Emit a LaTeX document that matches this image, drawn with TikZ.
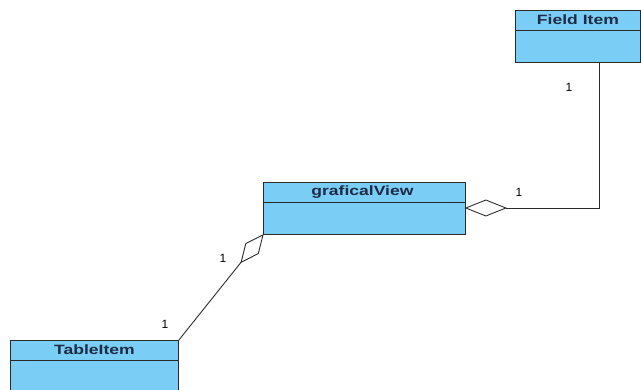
\documentclass[tikz,border=0pt]{standalone}
\usepackage{fontspec}
\setmainfont{Liberation Sans}
\usetikzlibrary{calc}
\definecolor{clsfill}{HTML}{7ACDF4}
\definecolor{clstext}{HTML}{1E2B45}
\definecolor{edge}{HTML}{2A2A2A}
\newcommand{\wideName}[1]{\scalebox{1.3}[1]{#1}}
\tikzset{
  cls/.style={draw=edge, line width=0.9pt, fill=clsfill, anchor=north west, inner sep=0pt},
  clsname/.style={font=\bfseries\fontsize{13.5}{15}\selectfont, text=clstext, inner sep=0pt},
  conn/.style={draw=edge, line width=0.9pt},
  mult/.style={font=\fontsize{12}{14}\selectfont, text=black, inner sep=0pt}
}
\begin{document}
\begin{tikzpicture}[x=1pt,y=-1pt]
\clip (0,0) rectangle (641,389);
\fill[white] (0,0) rectangle (641,389);
% classes
\node[cls, minimum width=125pt, minimum height=52pt] (fi) at (515,10) {};
\node[cls, minimum width=202pt, minimum height=52pt] (gv) at (263,182) {};
\node[cls, minimum width=168pt, minimum height=60pt] (ti) at (10,340) {};
% header dividers
\draw[conn] ($(fi.north west)+(0,20)$) -- ($(fi.north east)+(0,20)$);
\draw[conn] ($(gv.north west)+(0,20)$) -- ($(gv.north east)+(0,20)$);
\draw[conn] ($(ti.north west)+(0,20)$) -- ($(ti.north east)+(0,20)$);
% names
\node[clsname] (fiN) at ($(fi.north)+(0,10)$) {\wideName{Field Item}};
\node[clsname] (gvN) at ($(gv.north)+(-2,10)$) {\wideName{graficalView}};
\node[clsname] (tiN) at ($(ti.north)+(0,10)$) {\wideName{TableItem}};
% aggregation Field Item -> graficalView
\coordinate (d1a) at ($(gv.north east)+(0,26)$);
\coordinate (d1b) at ($(d1a)+(40,0)$);
\coordinate (fiB) at ($(fi.south west)+(84,0)$);
\draw[conn, fill=white] (d1a) -- ($(d1a)+(20,-8)$) -- (d1b) -- ($(d1a)+(20,8)$) -- cycle;
\draw[conn] (fiB) |- (d1b);
% aggregation TableItem -> graficalView
\coordinate (d2a) at (gv.south west);
\coordinate (d2b) at ($(d2a)!35pt!(ti.north east)$);
\coordinate (d2m) at ($(d2a)!0.5!(d2b)$);
\draw[conn, fill=white] (d2a) -- ($(d2m)!8pt!90:(d2a)$) -- (d2b) -- ($(d2m)!8pt!-90:(d2a)$) -- cycle;
\draw[conn] (d2b) -- (ti.north east);
% multiplicities
\node[mult] (m1) at (569,87) {1};
\node[mult] (m2) at (519,192) {1};
\node[mult] (m3) at (223,258) {1};
\node[mult] (m4) at (165,324) {1};
\end{tikzpicture}
\end{document}
